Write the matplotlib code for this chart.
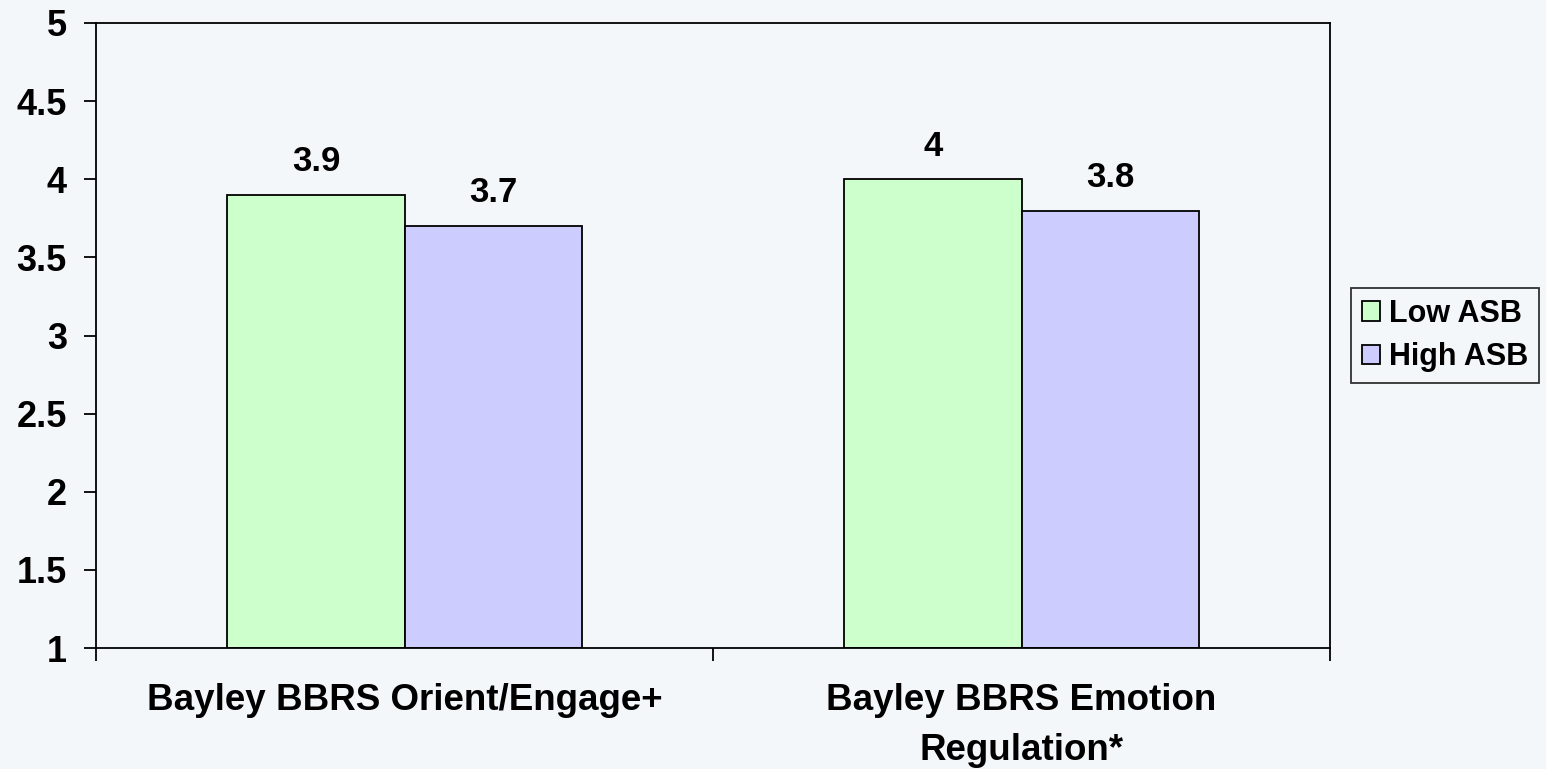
import matplotlib
matplotlib.use("Agg")
import matplotlib.pyplot as plt
import numpy as np

categories = ["Bayley BBRS Orient/Engage+", "Bayley BBRS Emotion\nRegulation*"]
series_names = ["Low ASB", "High ASB"]
low_asb = [3.9, 4.0]
high_asb = [3.7, 3.8]
value_labels_low = ["3.9", "4"]
value_labels_high = ["3.7", "3.8"]
yticks = [1, 1.5, 2, 2.5, 3, 3.5, 4, 4.5, 5]
ytick_labels = ["1", "1.5", "2", "2.5", "3", "3.5", "4", "4.5", "5"]

plt.rcParams['font.family'] = ['Liberation Sans', 'DejaVu Sans']
plt.rcParams['font.weight'] = 'bold'

fig = plt.figure(figsize=(15.46, 7.69), dpi=100)
fig.patch.set_facecolor('#f3f7f9')
ax = fig.add_axes([96/1546, 1-648/769, (1330-96)/1546, (648-23)/769])
ax.set_facecolor('none')

x = np.arange(len(categories))
w = 0.287
b1 = ax.bar(x - w/2, np.array(low_asb) - 1, w, bottom=1, color='#ccffcc', edgecolor='black', linewidth=1.3, label=series_names[0])
b2 = ax.bar(x + w/2, np.array(high_asb) - 1, w, bottom=1, color='#ccccff', edgecolor='black', linewidth=1.3, label=series_names[1])

for bars, vals, labs in ((b1, low_asb, value_labels_low), (b2, high_asb, value_labels_high)):
    for r, v, l in zip(bars, vals, labs):
        ax.annotate(l, (r.get_x() + r.get_width()/2, v), xytext=(0, 12), textcoords='offset points',
                    ha='center', va='bottom', fontsize=25, fontweight='bold')

ax.set_xlim(-0.5, len(categories) - 0.5)
ax.set_ylim(1, 5)
ax.set_yticks(yticks)
ax.set_yticklabels(ytick_labels)
ax.set_xticks([-0.5, 0.5, 1.5])
ax.set_xticklabels([])
ax.set_xticks(x, minor=True)
ax.set_xticklabels(categories, minor=True, linespacing=1.55)
ax.tick_params(axis='x', which='minor', length=0, pad=25, labelsize=26.5)
ax.tick_params(axis='x', which='major', direction='out', length=9, width=1.3)
ax.tick_params(axis='y', direction='out', length=9, width=1.3, labelsize=26, pad=12)
for lab in ax.get_xticklabels(minor=True) + ax.get_yticklabels():
    lab.set_fontweight('bold')
for s in ax.spines.values():
    s.set_linewidth(1.3)

leg = fig.legend(handles=[b1, b2], labels=series_names, loc='upper left',
                 bbox_to_anchor=(1351/1546, 1-288/769), fontsize=22, frameon=True,
                 fancybox=False, edgecolor='black', handlelength=0.6, handleheight=0.6,
                 handletextpad=0.3, borderpad=0.35, labelspacing=0.45, borderaxespad=0)
leg.get_frame().set_linewidth(1.3)
leg.get_frame().set_facecolor('none')
for t in leg.get_texts():
    t.set_fontweight('bold')

fig.savefig('out.png', dpi=100, facecolor=fig.get_facecolor())
